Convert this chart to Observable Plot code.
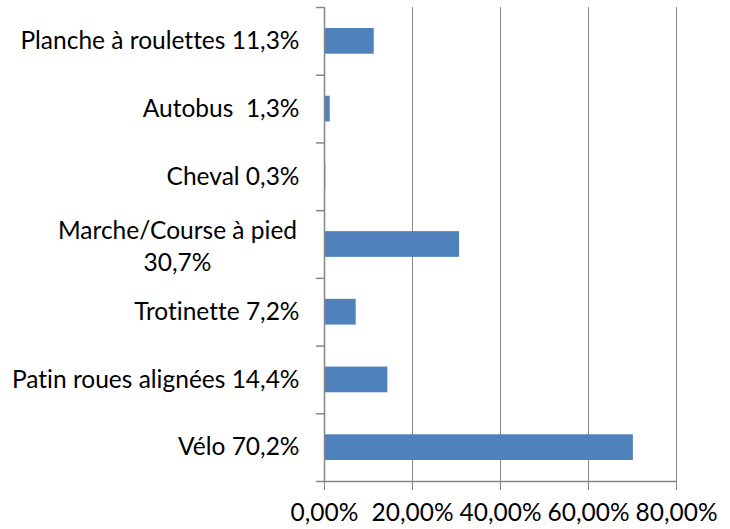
<!DOCTYPE html>
<html>
<head>
<meta charset="utf-8">
<script src="https://cdn.jsdelivr.net/npm/d3@7"></script>
<script src="https://cdn.jsdelivr.net/npm/@observablehq/plot@0.6"></script>
<style>
  html, body { margin: 0; padding: 0; background: #fff; }
  #chart { width: 730px; height: 529px; }
  svg, svg text { font-family: Lato, "Open Sans", sans-serif; font-variant-ligatures: none; font-feature-settings: "liga" 0, "clig" 0; }
</style>
</head>
<body>
<div id="chart"></div>
<script>
// Categories top to bottom
const categories = ["Planche à roulettes", "Autobus", "Cheval", "Marche/Course à pied", "Trotinette", "Patin roues alignées", "Vélo"];
const values = [0.113, 0.013, 0.003, 0.307, 0.072, 0.144, 0.702];
const labels = ["Planche à roulettes 11,3%", "Autobus  1,3%", "Cheval 0,3%", "Marche/Course à pied\n30,7%", "Trotinette 7,2%", "Patin roues alignées 14,4%", "Vélo 70,2%"];
const xTicks = [0, 0.2, 0.4, 0.6, 0.8];

const data = categories.map((c, i) => ({cat: c, i, value: values[i], label: labels[i]}));
const single = data.filter(d => !d.label.includes("\n"));
const multi = data.filter(d => d.label.includes("\n"));
const fmt = d => (d * 100).toFixed(2).replace(".", ",") + "%";
const grid = "#868686";
const fs = 24.5;

const chart = Plot.plot({
  width: 730,
  height: 529,
  marginLeft: 324,
  marginRight: 54,
  marginTop: 7,
  marginBottom: 48,
  style: {fontFamily: "Lato, 'Open Sans', sans-serif", fontSize: fs + "px", color: "#000", background: "#fff", overflow: "visible"},
  x: {domain: [0, 0.8], label: null},
  y: {domain: [0, categories.length], reverse: true, label: null},
  marks: [
    Plot.ruleX(xTicks.slice(1), {stroke: grid, strokeWidth: 1}),
    Plot.rectX(data, {x1: 0, x2: "value", y1: "i", y2: d => d.i + 1, insetTop: 21, insetBottom: 21, fill: "#4F81BD"}),
    Plot.ruleX([0], {stroke: grid, strokeWidth: 1.5}),
    Plot.ruleY([categories.length], {stroke: grid, strokeWidth: 1.5}),
    Plot.axisY({ticks: d3.range(categories.length + 1), tickFormat: () => "", tickSize: 8, stroke: grid, strokeWidth: 1.5, label: null}),
    Plot.axisX({ticks: xTicks, tickFormat: fmt, tickSize: 9, tickPadding: 13, stroke: grid, fontSize: fs, fill: "#000", label: null}),
    Plot.text(single, {x: 0, y: d => d.i + 0.5, text: "label", textAnchor: "end", dx: -25, fontSize: fs, fill: "#000"}),
    Plot.text(multi, {x: 0, y: d => d.i + 0.5, text: "label", textAnchor: "middle", dx: -147, lineHeight: 1.3, fontSize: fs, fill: "#000"})
  ]
});
document.getElementById("chart").appendChild(chart);
</script>
</body>
</html>
